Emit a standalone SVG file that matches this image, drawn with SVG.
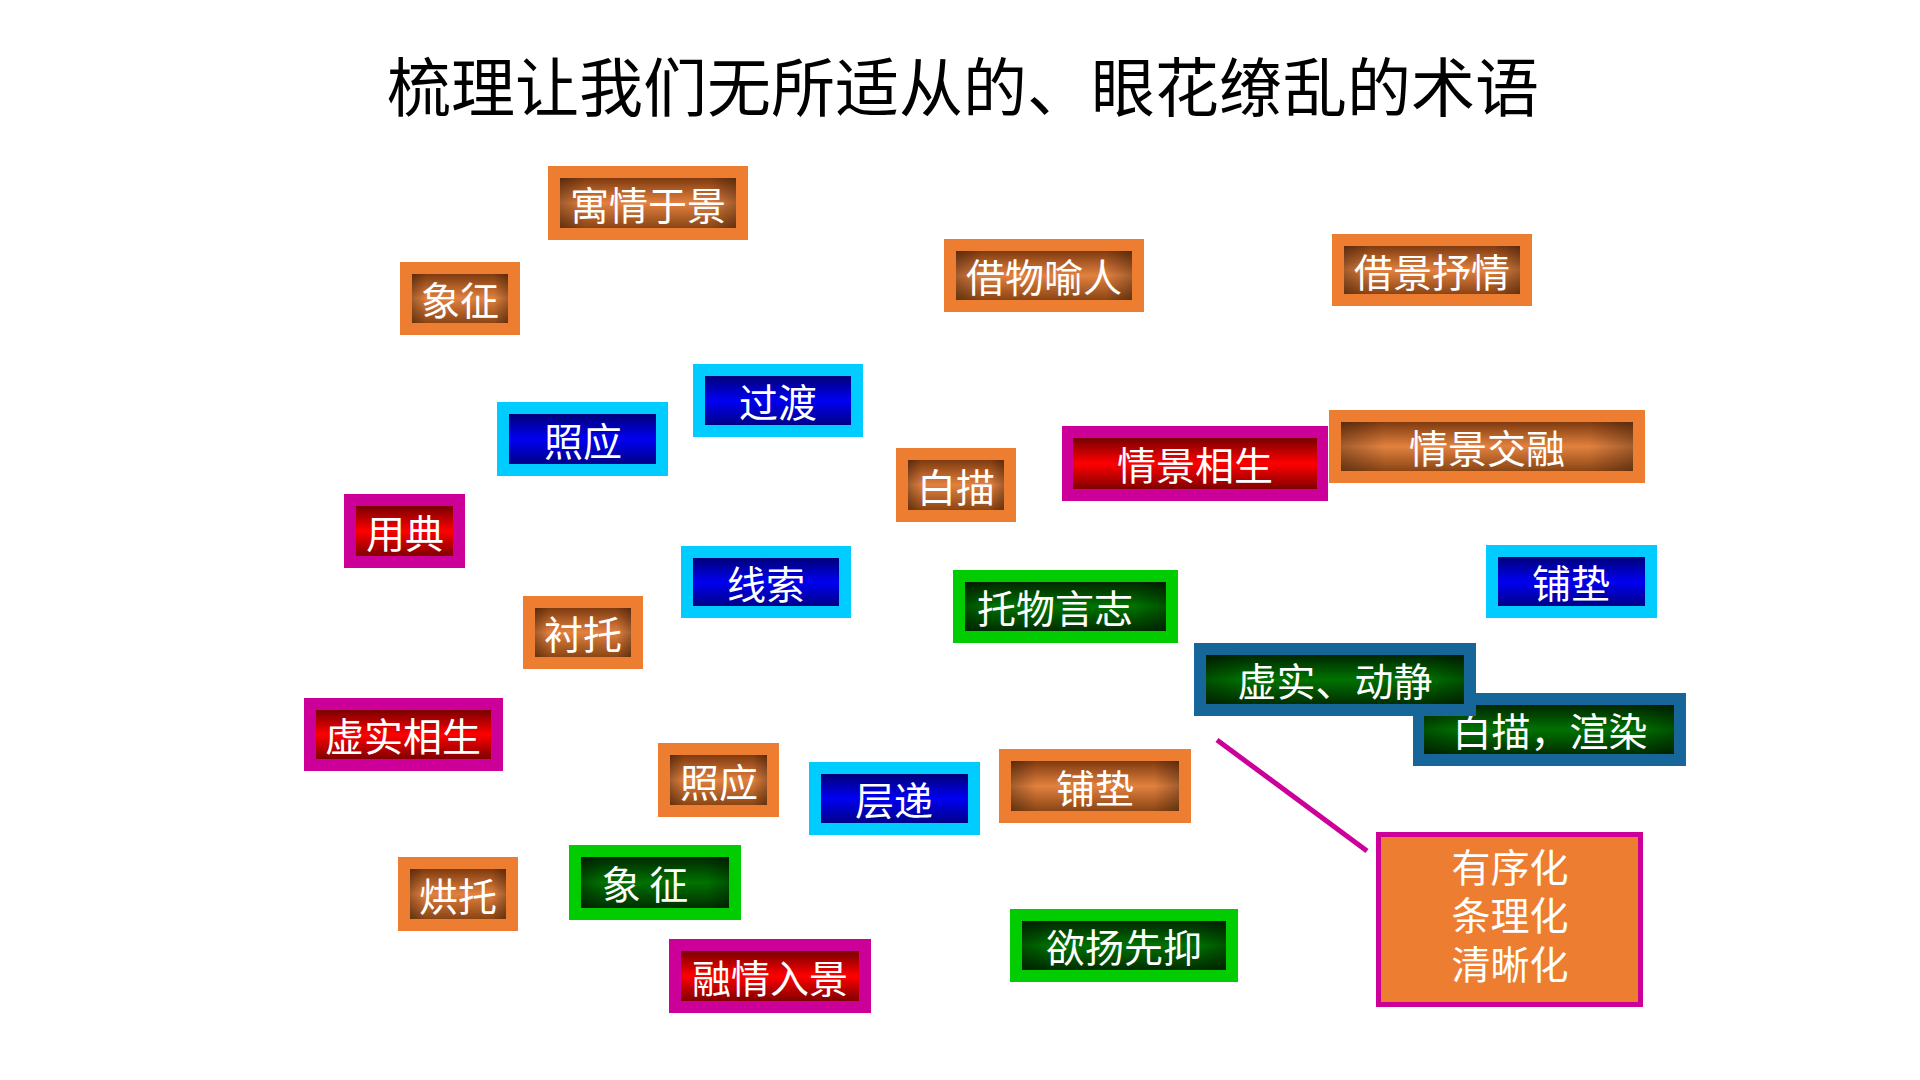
<svg xmlns="http://www.w3.org/2000/svg" width="1920" height="1080" viewBox="0 0 1920 1080">
<defs>
<linearGradient id="gO" x1="0" y1="0" x2="0" y2="1"><stop offset="0" stop-color="#7E3A0F"/><stop offset="0.5" stop-color="#E2813F"/><stop offset="1" stop-color="#8A4514"/></linearGradient>
<linearGradient id="gB" x1="0" y1="0" x2="0" y2="1"><stop offset="0" stop-color="#000078"/><stop offset="0.5" stop-color="#0000F2"/><stop offset="1" stop-color="#000088"/></linearGradient>
<linearGradient id="gR" x1="0" y1="0" x2="0" y2="1"><stop offset="0" stop-color="#780000"/><stop offset="0.5" stop-color="#FF0000"/><stop offset="1" stop-color="#800000"/></linearGradient>
<linearGradient id="gG" x1="0" y1="0" x2="0" y2="1"><stop offset="0" stop-color="#002600"/><stop offset="0.5" stop-color="#007200"/><stop offset="1" stop-color="#002E00"/></linearGradient>
<linearGradient id="gE" x1="0" y1="0" x2="1" y2="0"><stop offset="0" stop-color="#000" stop-opacity="0.28"/><stop offset="0.15" stop-color="#000" stop-opacity="0"/><stop offset="0.85" stop-color="#000" stop-opacity="0"/><stop offset="1" stop-color="#000" stop-opacity="0.28"/></linearGradient>
</defs>
<style>
text{font-family:"Noto Sans CJK SC","Noto Sans",sans-serif}
.t{fill:#fff;font-size:39px;text-anchor:middle}
.title{fill:#000;font-size:64px;text-anchor:middle}
.bo{fill:#ED7D31}.bb{fill:#00CCFF}.br{fill:#CC0099}.bg{fill:#00CC00}.bt{fill:#17669A}
.io{fill:url(#gO)}.ib{fill:url(#gB)}.ir{fill:url(#gR)}.ig{fill:url(#gG)}
.ov{fill:url(#gE)}
.big{fill:#ED7D31;stroke:#CC0099;stroke-width:5}
.conn{stroke:#CC0099;stroke-width:5;fill:none}
</style>
<rect width="1920" height="1080" fill="#fff"/>
<text class="title" x="963" y="111">梳理让我们无所适从的、眼花缭乱的术语</text>

<g id="n1"><rect class="bo" x="548" y="166" width="200" height="74"/><rect class="io" x="560" y="178" width="176" height="50"/><rect class="ov" x="560" y="178" width="176" height="50"/><text class="t" x="648" y="220">寓情于景</text></g>
<g id="n2"><rect class="bo" x="400" y="262" width="120" height="73"/><rect class="io" x="412" y="274" width="96" height="49"/><rect class="ov" x="412" y="274" width="96" height="49"/><text class="t" x="460" y="315">象征</text></g>
<g id="n3"><rect class="bo" x="944" y="239" width="200" height="73"/><rect class="io" x="956" y="251" width="176" height="49"/><rect class="ov" x="956" y="251" width="176" height="49"/><text class="t" x="1044" y="292">借物喻人</text></g>
<g id="n4"><rect class="bo" x="1332" y="234" width="200" height="72"/><rect class="io" x="1344" y="246" width="176" height="48"/><rect class="ov" x="1344" y="246" width="176" height="48"/><text class="t" x="1432" y="287">借景抒情</text></g>
<g id="n5"><rect class="bb" x="693" y="364" width="170" height="73"/><rect class="ib" x="705" y="376" width="146" height="49"/><text class="t" x="778" y="417">过渡</text></g>
<g id="n6"><rect class="bb" x="497" y="402" width="171" height="74"/><rect class="ib" x="509" y="414" width="147" height="50"/><text class="t" x="583" y="456">照应</text></g>
<g id="n7"><rect class="bo" x="896" y="448" width="120" height="74"/><rect class="io" x="908" y="460" width="96" height="50"/><rect class="ov" x="908" y="460" width="96" height="50"/><text class="t" x="956" y="502">白描</text></g>
<g id="n8"><rect class="br" x="1062" y="426" width="266" height="75"/><rect class="ir" x="1073" y="438" width="244" height="51"/><text class="t" x="1195" y="480">情景相生</text></g>
<g id="n9"><rect class="bo" x="1329" y="410" width="316" height="73"/><rect class="io" x="1341" y="422" width="292" height="49"/><rect class="ov" x="1341" y="422" width="292" height="49"/><text class="t" x="1487" y="463">情景交融</text></g>
<g id="n10"><rect class="br" x="344" y="494" width="121" height="74"/><rect class="ir" x="356" y="506" width="97" height="50"/><text class="t" x="405" y="548">用典</text></g>
<g id="n11"><rect class="bb" x="681" y="546" width="170" height="72"/><rect class="ib" x="693" y="558" width="146" height="48"/><text class="t" x="766" y="599">线索</text></g>
<g id="n12"><rect class="bg" x="953" y="570" width="225" height="73"/><rect class="ig" x="965" y="582" width="201" height="49"/><rect class="ov" x="965" y="582" width="201" height="49"/><text class="t" x="1055" y="623">托物言志</text></g>
<g id="n13"><rect class="bb" x="1486" y="545" width="171" height="73"/><rect class="ib" x="1498" y="557" width="147" height="49"/><text class="t" x="1571" y="598">铺垫</text></g>
<g id="n14"><rect class="bo" x="523" y="596" width="120" height="73"/><rect class="io" x="535" y="608" width="96" height="49"/><rect class="ov" x="535" y="608" width="96" height="49"/><text class="t" x="583" y="649">衬托</text></g>
<g id="n15"><rect class="bt" x="1413" y="693" width="273" height="73"/><rect class="ig" x="1424" y="705" width="250" height="49"/><rect class="ov" x="1424" y="705" width="250" height="49"/><text class="t" x="1550" y="746">白描，渲染</text></g>
<g id="n16"><rect class="bt" x="1194" y="643" width="282" height="73"/><rect class="ig" x="1206" y="655" width="258" height="49"/><rect class="ov" x="1206" y="655" width="258" height="49"/><text class="t" x="1335" y="696">虚实、动静</text></g>
<g id="n17"><rect class="br" x="304" y="698" width="199" height="73"/><rect class="ir" x="316" y="710" width="175" height="49"/><text class="t" x="403" y="751">虚实相生</text></g>
<g id="n18"><rect class="bo" x="658" y="743" width="121" height="74"/><rect class="io" x="670" y="755" width="97" height="50"/><rect class="ov" x="670" y="755" width="97" height="50"/><text class="t" x="719" y="797">照应</text></g>
<g id="n19"><rect class="bb" x="809" y="762" width="171" height="73"/><rect class="ib" x="821" y="774" width="147" height="49"/><text class="t" x="894" y="815">层递</text></g>
<g id="n20"><rect class="bo" x="999" y="749" width="192" height="74"/><rect class="io" x="1011" y="761" width="168" height="50"/><rect class="ov" x="1011" y="761" width="168" height="50"/><text class="t" x="1095" y="803">铺垫</text></g>
<g id="n21"><rect class="bo" x="398" y="857" width="120" height="74"/><rect class="io" x="410" y="869" width="96" height="50"/><rect class="ov" x="410" y="869" width="96" height="50"/><text class="t" x="458" y="911">烘托</text></g>
<g id="n22"><rect class="bg" x="569" y="845" width="172" height="75"/><rect class="ig" x="581" y="857" width="148" height="51"/><rect class="ov" x="581" y="857" width="148" height="51"/><text class="t" x="645" y="899">象 征</text></g>
<g id="n23"><rect class="bg" x="1010" y="909" width="228" height="73"/><rect class="ig" x="1022" y="921" width="204" height="49"/><rect class="ov" x="1022" y="921" width="204" height="49"/><text class="t" x="1124" y="962">欲扬先抑</text></g>
<g id="n24"><rect class="br" x="669" y="939" width="202" height="74"/><rect class="ir" x="681" y="951" width="178" height="50"/><text class="t" x="770" y="993">融情入景</text></g>
<g id="n25"><rect class="big" x="1378.5" y="834.5" width="262" height="170"/>
<text class="t" x="1510" y="882">有序化</text><text class="t" x="1510" y="930">条理化</text><text class="t" x="1510" y="979">清晰化</text></g>

<g id="connectors"><line class="conn" x1="1217" y1="740" x2="1367" y2="851"/></g>
</svg>
